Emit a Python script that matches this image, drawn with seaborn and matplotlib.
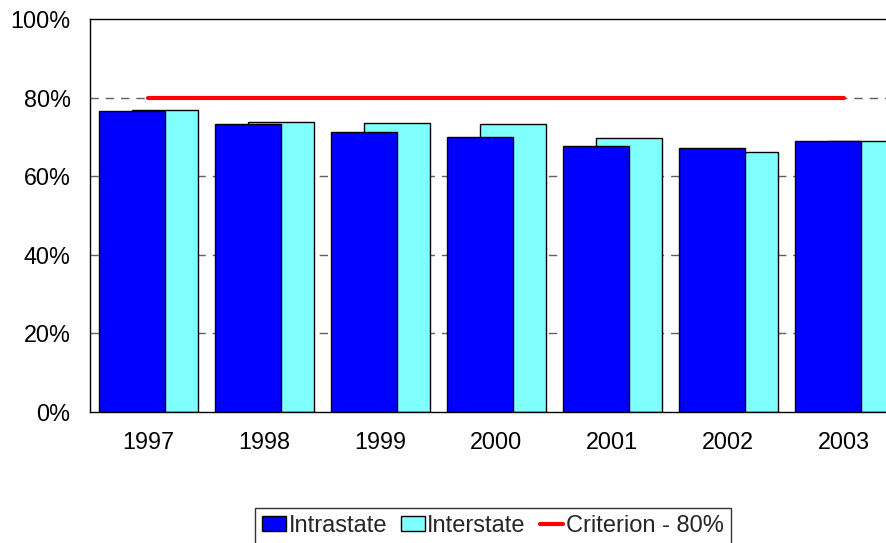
import numpy as np
import pandas as pd
import matplotlib
matplotlib.use("Agg")
import matplotlib.pyplot as plt
import seaborn as sns
from matplotlib.patches import Patch
from matplotlib.lines import Line2D

# values (percent)
years = [1997, 1998, 1999, 2000, 2001, 2002, 2003]
intrastate = [76.6, 73.4, 71.2, 70.1, 67.6, 67.1, 69.0]
interstate = [76.8, 73.7, 73.6, 73.2, 69.6, 66.2, 69.0]
criterion = [80, 80, 80, 80, 80, 80, 80]
yticks = [0, 20, 40, 60, 80, 100]

sns.set_theme(style="white")
plt.rcParams["font.family"] = ["Liberation Sans", "DejaVu Sans"]

fig = plt.figure(figsize=(8.87, 5.43), dpi=100)
ax = fig.add_axes([90 / 887, 1 - 412 / 543, 812 / 887, 393 / 543])

# dashed gridlines behind the bars
for v in yticks[1:-1]:
    ax.axhline(v, color="#606060", lw=1, ls=(0, (6, 5)), zorder=0)

off = 16.5 / 116
bw = 66 / 116
df = pd.DataFrame({"year": years, "intra": intrastate, "inter": interstate})

# Excel-style overlapping bars: interstate behind, intrastate in front
sns.barplot(x=df["year"] + off, y=df["inter"], native_scale=True, width=bw,
            color="#80FFFF", saturation=1, edgecolor="black", linewidth=1,
            ax=ax, zorder=2)
sns.barplot(x=df["year"] - off, y=df["intra"], native_scale=True, width=bw,
            color="#0000FF", saturation=1, edgecolor="black", linewidth=1,
            ax=ax, zorder=3)
sns.lineplot(x=years, y=criterion, color="#FF0000", lw=3, ax=ax, zorder=4)

ax.set_xlim(1996.5, 2003.5)
ax.set_ylim(0, 100)
ax.set_xticks(years)
ax.set_xticklabels([str(y) for y in years])
ax.set_yticks(yticks)
ax.set_yticklabels([f"{v}%" for v in yticks])
ax.tick_params(axis="both", length=0, labelsize=16.8, colors="black")
ax.tick_params(axis="y", pad=14)
ax.tick_params(axis="x", pad=14)
ax.set_xlabel("")
ax.set_ylabel("")
for s in ax.spines.values():
    s.set_color("black")
    s.set_linewidth(1)

handles = [
    Patch(facecolor="#0000FF", edgecolor="black", label="Intrastate"),
    Patch(facecolor="#80FFFF", edgecolor="black", label="Interstate"),
    Line2D([0], [0], color="#FF0000", lw=3, label="Criterion - 80%"),
]
leg = fig.legend(handles=handles, loc="upper center", ncol=3,
                 bbox_to_anchor=(493 / 887, 1 - 508 / 543),
                 fontsize=17, frameon=True, fancybox=False,
                 handlelength=1.0, handleheight=0.6, handletextpad=0.1,
                 columnspacing=0.6, borderpad=0.3, borderaxespad=0)
leg.get_frame().set_edgecolor("black")
leg.get_frame().set_linewidth(1)

fig.savefig("out.png", dpi=100)
